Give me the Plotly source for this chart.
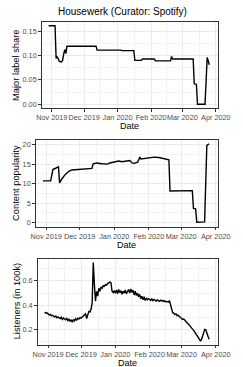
import pandas as pd
import plotly.graph_objects as go

TITLE = "Housewerk (Curator: Spotify)"
X_TICKS = ["2019-11-01", "2019-12-01", "2020-01-01", "2020-02-01", "2020-03-01", "2020-04-01"]
X_TICKLABELS = ["Nov 2019", "Dec 2019", "Jan 2020", "Feb 2020", "Mar 2020", "Apr 2020"]
X_MINOR = ["2019-11-16", "2019-12-16 12:00", "2020-01-16 12:00", "2020-02-15 12:00", "2020-03-16 12:00"]

# Panel 1: major label share
major_dates = ["2019-10-29", "2019-11-04", "2019-11-05", "2019-11-06", "2019-11-07", "2019-11-08",
               "2019-11-10", "2019-11-11", "2019-11-12", "2019-11-13", "2019-11-14", "2019-11-15",
               "2019-12-12", "2019-12-13", "2020-01-04", "2020-01-05", "2020-01-16", "2020-01-17",
               "2020-01-23", "2020-01-24", "2020-02-04", "2020-02-05", "2020-02-19", "2020-02-20",
               "2020-02-21", "2020-03-11", "2020-03-12", "2020-03-14", "2020-03-15", "2020-03-22",
               "2020-03-24", "2020-03-25", "2020-03-26"]
major_share = [0.161, 0.161, 0.094, 0.098, 0.093, 0.088,
               0.087, 0.090, 0.103, 0.112, 0.104, 0.119,
               0.119, 0.111, 0.111, 0.110, 0.110, 0.090,
               0.090, 0.093, 0.093, 0.089, 0.089, 0.098,
               0.093, 0.093, 0.042, 0.041, 0.000, 0.000,
               0.096, 0.090, 0.081]

# Panel 2: content popularity
pop_dates = ["2019-10-29", "2019-11-05", "2019-11-07", "2019-11-10", "2019-11-12", "2019-11-13",
             "2019-11-15", "2019-11-18", "2019-11-21", "2019-11-24", "2019-12-01", "2019-12-06",
             "2019-12-12", "2019-12-13", "2019-12-16", "2019-12-21", "2019-12-26", "2019-12-28",
             "2020-01-02", "2020-01-05", "2020-01-08", "2020-01-12", "2020-01-15", "2020-01-17",
             "2020-01-19", "2020-01-22", "2020-01-24", "2020-01-25", "2020-01-27", "2020-02-01",
             "2020-02-06", "2020-02-10", "2020-02-14", "2020-02-18", "2020-02-19", "2020-02-20",
             "2020-03-01", "2020-03-11", "2020-03-12", "2020-03-14", "2020-03-15", "2020-03-22",
             "2020-03-24", "2020-03-26"]
popularity = [10.7, 10.7, 13.6, 14.0, 14.3, 10.2,
              11.2, 12.3, 13.1, 13.5, 13.6, 13.8,
              13.9, 15.0, 15.3, 15.1, 15.0, 15.3,
              15.5, 15.8, 15.6, 15.7, 15.9, 15.3,
              15.2, 15.5, 16.8, 16.3, 16.4, 16.6,
              16.8, 16.7, 16.5, 16.3, 16.1, 8.1,
              8.1, 8.2, 3.7, 3.5, 0.1, 0.2,
              19.8, 20.2]

# Panel 3: listeners (in 100k), daily from 2019-10-29
listeners_start = "2019-10-29"
listeners_oct = [0.345, 0.335, 0.338]
listeners_nov = [0.328, 0.322, 0.326, 0.315, 0.318, 0.312, 0.305, 0.312, 0.298, 0.305,
                 0.300, 0.292, 0.303, 0.285, 0.296, 0.288, 0.282, 0.293, 0.275, 0.288,
                 0.268, 0.282, 0.262, 0.285, 0.272, 0.290, 0.280, 0.295, 0.288, 0.300]
listeners_dec = [0.295, 0.305, 0.312, 0.322, 0.330, 0.292, 0.335, 0.350, 0.345, 0.370,
                 0.420, 0.750, 0.570, 0.435, 0.515, 0.475, 0.540, 0.515, 0.550, 0.540,
                 0.560, 0.555, 0.570, 0.565, 0.578, 0.582, 0.590, 0.585, 0.515, 0.505, 0.520]
listeners_jan = [0.500, 0.525, 0.495, 0.530, 0.505, 0.520, 0.490, 0.515, 0.500, 0.525,
                 0.495, 0.510, 0.530, 0.500, 0.535, 0.505, 0.525, 0.485, 0.515, 0.480,
                 0.500, 0.470, 0.490, 0.455, 0.475, 0.445, 0.470, 0.440, 0.460, 0.445, 0.455]
listeners_feb = [0.450, 0.440, 0.452, 0.438, 0.448, 0.442, 0.435, 0.445, 0.438, 0.432,
                 0.442, 0.436, 0.440, 0.430, 0.436, 0.428, 0.432, 0.426, 0.438, 0.405,
                 0.370, 0.340, 0.335, 0.325, 0.330, 0.315, 0.318, 0.305, 0.300]
listeners_mar = [0.292, 0.285, 0.288, 0.272, 0.268, 0.258, 0.250, 0.235, 0.228, 0.215,
                 0.208, 0.195, 0.180, 0.165, 0.148, 0.130, 0.116, 0.110, 0.118, 0.150,
                 0.185, 0.203, 0.200, 0.180, 0.145, 0.122]
listeners = listeners_oct + listeners_nov + listeners_dec + listeners_jan + listeners_feb + listeners_mar
listener_dates = pd.date_range(listeners_start, periods=len(listeners), freq="D")

W, H = 243, 367
FONT = "Liberation Sans, Arial, sans-serif"
X_RANGE = ["2019-10-22 12:00", "2020-04-03 00:00"]

panels = [
    dict(x=major_dates, y=major_share, xdom=(39.3, 229.0), ydom=(108.5, 22.4),
         yrange=[-0.008, 0.168], ytick=[0, 0.05, 0.10, 0.15], yfmt=".2f",
         yminor=[0.025, 0.075, 0.125], ytitle="Major label share", datey=126),
    dict(x=pop_dates, y=popularity, xdom=(32.9, 229.0), ydom=(227.25, 140.26),
         yrange=[-1.01, 21.21], ytick=[0, 5, 10, 15, 20], yfmt="d",
         yminor=[2.5, 7.5, 12.5, 17.5], ytitle="Content popularity", datey=245.5),
    dict(x=listener_dates, y=listeners, xdom=(35.0, 229.0), ydom=(345.6, 259.4),
         yrange=[0.078, 0.782], ytick=[0.2, 0.4, 0.6], yfmt=".1f",
         yminor=[0.1, 0.3, 0.5, 0.7], ytitle="Listeners (in 100k)", datey=363.5),
]

fig = go.Figure()
layout = dict(width=W, height=H, margin=dict(l=0, r=0, t=0, b=0),
              paper_bgcolor="white", plot_bgcolor="white", showlegend=False,
              font=dict(family=FONT, color="#000000"))
annotations = [dict(text=TITLE, x=126 / W, y=1 - 12 / H, xref="paper", yref="paper",
                    showarrow=False, xanchor="center", yanchor="middle",
                    font=dict(size=10, family=FONT, color="#000000"))]

for i, p in enumerate(panels, start=1):
    xa = "x" if i == 1 else f"x{i}"
    ya = "y" if i == 1 else f"y{i}"
    fig.add_trace(go.Scatter(x=p["x"], y=p["y"], mode="lines", xaxis=xa, yaxis=ya,
                             line=dict(color="black", width=1.4)))
    common = dict(showline=True, mirror=True, linecolor="#333333", linewidth=0.8,
                  ticks="outside", ticklen=2.5, tickwidth=0.8, tickcolor="#333333",
                  showgrid=True, gridcolor="#EBEBEB", gridwidth=0.9, zeroline=False,
                  tickfont=dict(size=7.3, family=FONT, color="#4D4D4D"),
                  ticklabeloverflow="allow", tickangle=0)
    layout["xaxis" if i == 1 else f"xaxis{i}"] = dict(
        common, domain=[p["xdom"][0] / W, p["xdom"][1] / W], anchor=ya, type="date",
        range=X_RANGE, tickmode="array", tickvals=X_TICKS, ticktext=X_TICKLABELS,
        minor=dict(tickmode="array", tickvals=X_MINOR, showgrid=True,
                   gridcolor="#F2F2F2", gridwidth=0.6, ticks=""))
    layout["yaxis" if i == 1 else f"yaxis{i}"] = dict(
        common, domain=[(H - p["ydom"][0]) / H, (H - p["ydom"][1]) / H], anchor=xa,
        range=p["yrange"], tickmode="array", tickvals=p["ytick"], tickformat=p["yfmt"],
        minor=dict(tickmode="array", tickvals=p["yminor"], showgrid=True,
                   gridcolor="#F2F2F2", gridwidth=0.6, ticks=""))
    ymid = (p["ydom"][0] + p["ydom"][1]) / 2
    annotations.append(dict(text=p["ytitle"], x=12.5 / W, y=1 - ymid / H, xref="paper",
                            yref="paper", showarrow=False, textangle=-90,
                            xanchor="center", yanchor="middle",
                            font=dict(size=9.3, family=FONT, color="#000000")))
    xmid = (p["xdom"][0] + p["xdom"][1]) / 2
    annotations.append(dict(text="Date", x=xmid / W, y=1 - p["datey"] / H, xref="paper",
                            yref="paper", showarrow=False, xanchor="center",
                            yanchor="middle",
                            font=dict(size=9, family=FONT, color="#000000")))

layout["annotations"] = annotations
fig.update_layout(**layout)
fig.write_html("out.html", config={"displayModeBar": False},
               post_script="document.body.style.margin='0px';document.body.style.overflow='hidden';")
